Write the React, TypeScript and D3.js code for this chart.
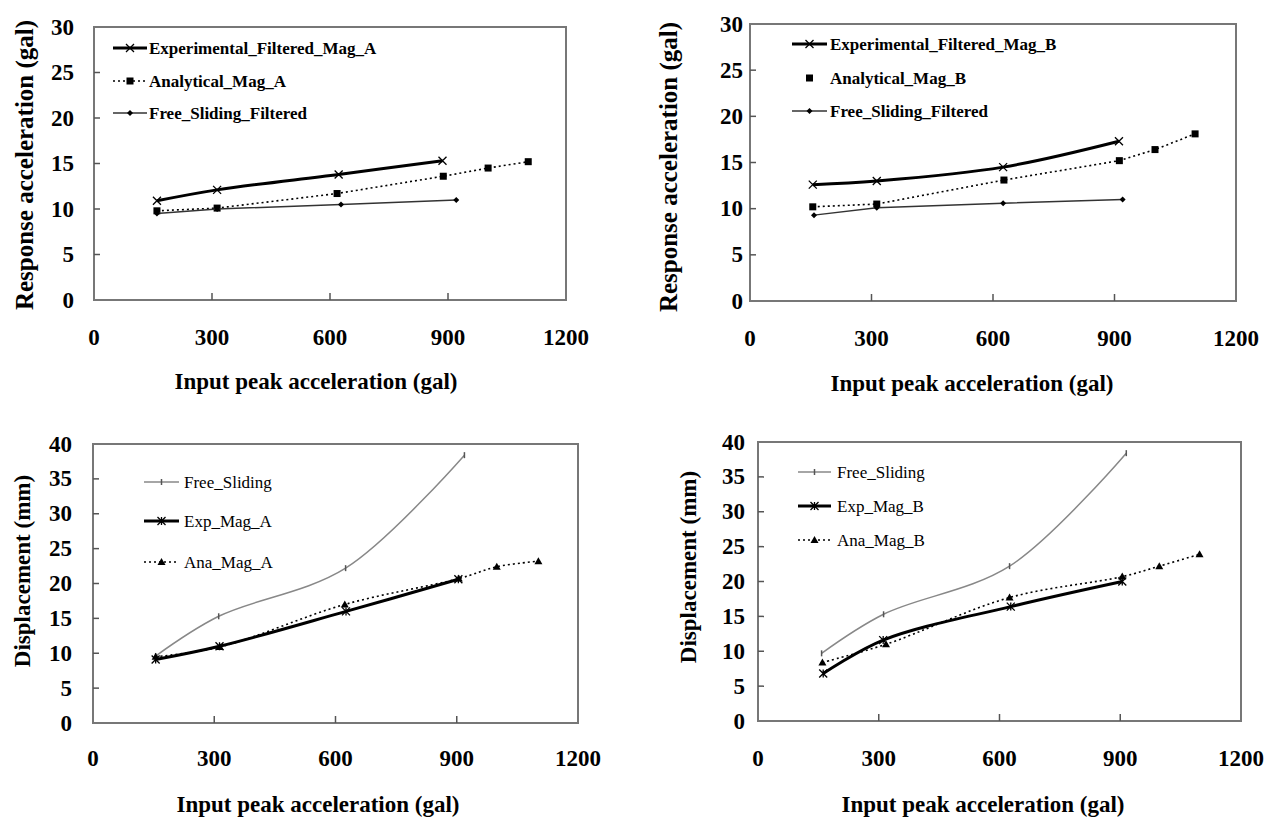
import React, { useEffect, useRef } from 'react';
import * as d3 from 'd3';

// x ticks shared by all four panels
const xTicks = [0, 300, 600, 900, 1200];

// top-left: response acceleration, Mag A
const expAccAX = [160, 313, 622, 886];
const expAccAY = [10.9, 12.1, 13.8, 15.3];
const anaAccAX = [160, 313, 618, 888, 1002, 1104];
const anaAccAY = [9.8, 10.1, 11.7, 13.6, 14.5, 15.2];
const freeFiltAX = [160, 313, 628, 921];
const freeFiltAY = [9.5, 10.0, 10.5, 11.0];

// top-right: response acceleration, Mag B
const expAccBX = [155, 313, 625, 911];
const expAccBY = [12.6, 13.0, 14.5, 17.3];
const anaAccBX = [155, 313, 627, 912, 1000, 1099];
const anaAccBY = [10.2, 10.5, 13.1, 15.2, 16.4, 18.1];
const freeFiltBX = [158, 313, 625, 920];
const freeFiltBY = [9.3, 10.1, 10.6, 11.0];

// bottom-left: displacement, Mag A
const freeDispAX = [155, 311, 625, 919];
const freeDispAY = [9.6, 15.3, 22.2, 38.4];
const expDispAX = [155, 313, 626, 904];
const expDispAY = [9.1, 11.0, 16.0, 20.6];
const anaDispAX = [155, 314, 623, 905, 999, 1102];
const anaDispAY = [9.5, 10.9, 17.0, 20.7, 22.4, 23.2];

// bottom-right: displacement, Mag B
const freeDispBX = [158, 312, 625, 915];
const freeDispBY = [9.7, 15.3, 22.2, 38.4];
const expDispBX = [162, 311, 628, 905];
const expDispBY = [6.8, 11.6, 16.4, 20.0];
const anaDispBX = [160, 318, 625, 905, 997, 1097];
const anaDispBY = [8.4, 11.0, 17.7, 20.7, 22.2, 23.9];

const FONT = "'Liberation Serif', 'DejaVu Serif', serif";

const zip = (xs, ys) => xs.map((x, i) => [x, ys[i]]);

// series styles
const styles = {
    exp: { stroke: '#000', width: 3, dash: null, marker: 'times' },
    ana: { stroke: '#000', width: 1.6, dash: '2,3', marker: 'square' },
    freeFilt: { stroke: '#333', width: 1.5, dash: null, marker: 'diamond' },
    free: { stroke: '#888', width: 1.5, dash: null, marker: 'tick' },
    exp2: { stroke: '#000', width: 3, dash: null, marker: 'asterisk' },
    ana2: { stroke: '#000', width: 1.6, dash: '2,3', marker: 'triangle' },
};

const drawMarker = (g, type, x, y, color) => {
    if (type === 'square') {
        g.append('rect').attr('x', x - 3.5).attr('y', y - 3.5)
            .attr('width', 7).attr('height', 7).attr('fill', '#000');
    } else if (type === 'diamond') {
        g.append('path').attr('d', `M${x},${y - 3}L${x + 3},${y}L${x},${y + 3}L${x - 3},${y}Z`)
            .attr('fill', '#000');
    } else if (type === 'triangle') {
        g.append('path').attr('d', `M${x},${y - 4}L${x + 4},${y + 3}L${x - 4},${y + 3}Z`)
            .attr('fill', '#000');
    } else if (type === 'times' || type === 'asterisk') {
        let d = `M${x - 4},${y - 4}L${x + 4},${y + 4}M${x - 4},${y + 4}L${x + 4},${y - 4}`;
        if (type === 'asterisk') d += `M${x},${y - 4}L${x},${y + 4}`;
        g.append('path').attr('d', d).attr('stroke', color).attr('stroke-width', 1.3).attr('fill', 'none');
    } else if (type === 'tick') {
        g.append('path').attr('d', `M${x},${y - 3}L${x},${y + 3}`)
            .attr('stroke', '#555').attr('stroke-width', 1.5);
    }
};

const panels = [
    {
        box: { l: 94, t: 27, r: 566, b: 300 }, yMax: 30,
        yLabelX: 74, yTitle: 'Response acceleration (gal)', yTitleX: 24, yTitleY: 165, yTitleSize: 25,
        xLabelY: 337, xTitleX: 316, xTitleY: 389, legendBold: true, legendSize: 17,
        legend: { x1: 113, x2: 147, tx: 149, ys: [48, 81, 113] },
        series: [
            { name: 'Experimental_Filtered_Mag_A', pts: zip(expAccAX, expAccAY), style: styles.exp, smooth: true },
            { name: 'Analytical_Mag_A', pts: zip(anaAccAX, anaAccAY), style: styles.ana, smooth: false },
            { name: 'Free_Sliding_Filtered', pts: zip(freeFiltAX, freeFiltAY), style: styles.freeFilt, smooth: false },
        ],
    },
    {
        box: { l: 750, t: 24, r: 1236, b: 301 }, yMax: 30,
        yLabelX: 743, yTitle: 'Response acceleration (gal)', yTitleX: 668, yTitleY: 167, yTitleSize: 25,
        xLabelY: 338, xTitleX: 972, xTitleY: 391, legendBold: true, legendSize: 17,
        legend: { x1: 792, x2: 827, tx: 830, ys: [44, 78, 111] },
        series: [
            { name: 'Experimental_Filtered_Mag_B', pts: zip(expAccBX, expAccBY), style: styles.exp, smooth: true },
            { name: 'Analytical_Mag_B', pts: zip(anaAccBX, anaAccBY), style: styles.ana, smooth: false, noLegendLine: true },
            { name: 'Free_Sliding_Filtered', pts: zip(freeFiltBX, freeFiltBY), style: styles.freeFilt, smooth: false },
        ],
    },
    {
        box: { l: 93, t: 444, r: 578, b: 723 }, yMax: 40,
        yLabelX: 72, yTitle: 'Displacement (mm)', yTitleX: 22, yTitleY: 571, yTitleSize: 23,
        xLabelY: 758, xTitleX: 318, xTitleY: 812, legendBold: false, legendSize: 17,
        legend: { x1: 144, x2: 179, tx: 184, ys: [482, 521, 562] },
        series: [
            { name: 'Free_Sliding', pts: zip(freeDispAX, freeDispAY), style: styles.free, smooth: true },
            { name: 'Exp_Mag_A', pts: zip(expDispAX, expDispAY), style: styles.exp2, smooth: true },
            { name: 'Ana_Mag_A', pts: zip(anaDispAX, anaDispAY), style: styles.ana2, smooth: true },
        ],
    },
    {
        box: { l: 758, t: 442, r: 1241, b: 721 }, yMax: 40,
        yLabelX: 745, yTitle: 'Displacement (mm)', yTitleX: 688, yTitleY: 567, yTitleSize: 23,
        xLabelY: 758, xTitleX: 983, xTitleY: 812, legendBold: false, legendSize: 17,
        legend: { x1: 798, x2: 831, tx: 837, ys: [472, 506, 540] },
        series: [
            { name: 'Free_Sliding', pts: zip(freeDispBX, freeDispBY), style: styles.free, smooth: true },
            { name: 'Exp_Mag_B', pts: zip(expDispBX, expDispBY), style: styles.exp2, smooth: true },
            { name: 'Ana_Mag_B', pts: zip(anaDispBX, anaDispBY), style: styles.ana2, smooth: true },
        ],
    },
];

const App = () => {
    const svgRef = useRef(null);

    useEffect(() => {
        const svg = d3.select(svgRef.current);
        svg.selectAll('*').remove();
        panels.forEach((p) => drawPanel(svg.append('g'), p));
    }, []);

    const drawPanel = function (g, p) {
        const { box } = p;
        const x = d3.scaleLinear().domain([0, 1200]).range([box.l, box.r]);
        const y = d3.scaleLinear().domain([0, p.yMax]).range([box.b, box.t]);

        // frame
        g.append('rect')
            .attr('x', box.l).attr('y', box.t)
            .attr('width', box.r - box.l).attr('height', box.b - box.t)
            .attr('fill', 'none').attr('stroke', '#777').attr('stroke-width', 2);

        // inner ticks
        const yTicks = d3.range(0, p.yMax + 1, 5);
        yTicks.filter((v) => v > 0 && v < p.yMax).forEach((v) => {
            g.append('line').attr('x1', box.l).attr('x2', box.l + 6)
                .attr('y1', y(v)).attr('y2', y(v)).attr('stroke', '#555').attr('stroke-width', 1.5);
        });
        xTicks.filter((v) => v > 0 && v < 1200).forEach((v) => {
            g.append('line').attr('x1', x(v)).attr('x2', x(v))
                .attr('y1', box.b).attr('y2', box.b - 7).attr('stroke', '#555').attr('stroke-width', 1.5);
        });

        const txt = (sel) => sel.style('font-family', FONT);

        // tick labels
        g.selectAll('.ylab').data(yTicks).enter().append('text')
            .attr('x', p.yLabelX).attr('y', (d) => y(d))
            .attr('dominant-baseline', 'central').attr('text-anchor', 'end')
            .call(txt).attr('font-weight', 'bold').attr('font-size', 23)
            .text((d) => d);
        g.selectAll('.xlab').data(xTicks).enter().append('text')
            .attr('x', (d) => x(d)).attr('y', p.xLabelY)
            .attr('dominant-baseline', 'central').attr('text-anchor', 'middle')
            .call(txt).attr('font-weight', 'bold').attr('font-size', 23)
            .text((d) => d);

        // axis titles
        g.append('text')
            .attr('x', p.xTitleX).attr('y', p.xTitleY).attr('text-anchor', 'middle')
            .call(txt).attr('font-weight', 'bold').attr('font-size', 23)
            .text('Input peak acceleration (gal)');
        g.append('text')
            .attr('transform', `translate(${p.yTitleX},${p.yTitleY}) rotate(-90)`)
            .attr('dominant-baseline', 'central').attr('text-anchor', 'middle')
            .call(txt).attr('font-weight', 'bold').attr('font-size', p.yTitleSize)
            .text(p.yTitle);

        // series
        p.series.forEach((s) => {
            const line = d3.line()
                .curve(s.smooth ? d3.curveCatmullRom.alpha(0.5) : d3.curveLinear)
                .x((d) => x(d[0])).y((d) => y(d[1]));
            g.append('path')
                .attr('d', line(s.pts))
                .attr('fill', 'none')
                .attr('stroke', s.style.stroke)
                .attr('stroke-width', s.style.width)
                .attr('stroke-dasharray', s.style.dash);
            s.pts.forEach((d) => drawMarker(g, s.style.marker, x(d[0]), y(d[1]), s.style.stroke));
        });

        // legend
        p.series.forEach((s, i) => {
            const ly = p.legend.ys[i];
            if (!s.noLegendLine) {
                g.append('line')
                    .attr('x1', p.legend.x1).attr('x2', p.legend.x2).attr('y1', ly).attr('y2', ly)
                    .attr('stroke', s.style.stroke).attr('stroke-width', s.style.width)
                    .attr('stroke-dasharray', s.style.dash);
            }
            drawMarker(g, s.style.marker, (p.legend.x1 + p.legend.x2) / 2, ly, s.style.stroke);
            g.append('text')
                .attr('x', p.legend.tx).attr('y', ly).attr('dominant-baseline', 'central')
                .call(txt).attr('font-weight', p.legendBold ? 'bold' : 'normal')
                .attr('font-size', p.legendSize)
                .text(s.name);
        });
    };

    return (
        <svg ref={svgRef} width={1270} height={818}
            style={{ position: 'absolute', left: 0, top: 0, background: '#fff' }}></svg>
    );
};

export default App;
